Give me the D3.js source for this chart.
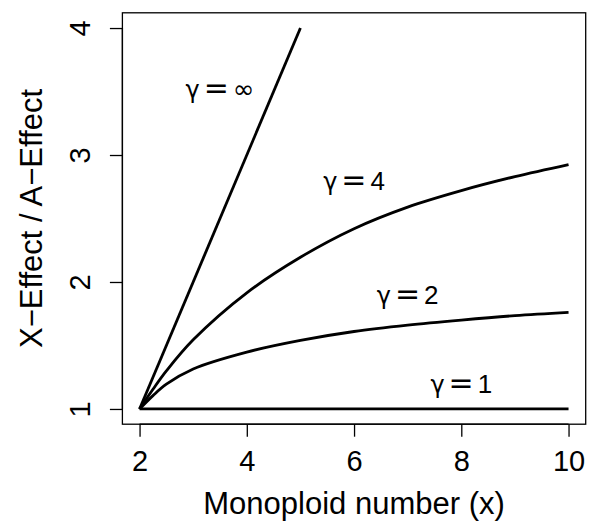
<!DOCTYPE html>
<html>
<head>
<meta charset="utf-8">
<script src="https://cdn.jsdelivr.net/npm/d3@7"></script>
<style>
  html, body { margin: 0; padding: 0; background: #fff; }
  svg { display: block; }
  text { font-family: "Liberation Sans", Arial, Helvetica, sans-serif; fill: #000; }
</style>
</head>
<body>
<svg id="chart" width="593" height="526"></svg>
<script>
// ---- data ----
const xTicks = [2, 4, 6, 8, 10];
const yTicks = [1, 2, 3, 4];
const xInf = [2, 5];
const yInf = [1, 4];
const x4 = [2, 2.25, 2.5, 3, 4, 5, 6, 7, 8, 9, 10];
const y4 = [1, 1.155, 1.30, 1.545, 1.915, 2.195, 2.42, 2.59, 2.72, 2.83, 2.925];
const x2 = [2, 2.25, 2.5, 3, 4, 5, 6, 7, 8, 9, 10];
const y2 = [1, 1.105, 1.195, 1.315, 1.448, 1.54, 1.61, 1.66, 1.70, 1.735, 1.761];
const x1 = [2, 10];
const y1 = [1, 1];
const labelText = ["∞", "4", "2", "1"];
const labelX = [3.5, 6, 7, 8];
const labelY = [3.52, 2.8, 1.9, 1.2];
const xTitle = "Monoploid number (x)";
const yTitle = "X\u2212Effect / A\u2212Effect";

// ---- layout ----
const svg = d3.select("#chart");
const plot = { left: 122.4, right: 585.7, top: 12.8, bottom: 424.2 };
const xDom = [2 - 0.32, 10 + 0.32];
const yDom = [1 - 0.12, 4 + 0.12];
const x = d3.scaleLinear().domain(xDom).range([plot.left, plot.right]);
const y = d3.scaleLinear().domain(yDom).range([plot.bottom, plot.top]);

// box
svg.append("rect")
  .attr("x", plot.left).attr("y", plot.top)
  .attr("width", plot.right - plot.left).attr("height", plot.bottom - plot.top)
  .attr("fill", "none").attr("stroke", "#000").attr("stroke-width", 1.3);

// x axis
const xAxis = d3.axisBottom(x).tickValues(xTicks).tickSize(12.5).tickFormat(d3.format("d"));
const gx = svg.append("g").attr("transform", `translate(0,${plot.bottom})`).call(xAxis);
gx.select(".domain").attr("d", `M${x(2)},0H${x(10)}`).attr("stroke-width", 1.3);
gx.selectAll(".tick line").attr("stroke-width", 1.3);
gx.selectAll(".tick text").attr("font-size", 29).attr("dy", null).attr("y", 46.5)
  .attr("font-family", '"Liberation Sans", Arial, sans-serif');

// y axis
const yAxis = d3.axisLeft(y).tickValues(yTicks).tickSize(12.5).tickFormat(d3.format("d"));
const gy = svg.append("g").attr("transform", `translate(${plot.left},0)`).call(yAxis);
gy.select(".domain").attr("d", `M0,${y(1)}V${y(4)}`).attr("stroke-width", 1.3);
gy.selectAll(".tick line").attr("stroke-width", 1.3);
gy.selectAll(".tick text")
  .attr("font-size", 29)
  .attr("x", null).attr("dy", null)
  .attr("text-anchor", "middle")
  .attr("transform", "translate(-32,0) rotate(-90)")
  .attr("font-family", '"Liberation Sans", Arial, sans-serif');

// titles
svg.append("text")
  .attr("x", (plot.left + plot.right) / 2).attr("y", 514)
  .attr("text-anchor", "middle").attr("font-size", 31)
  .text(xTitle);
svg.append("text")
  .attr("transform", `translate(42,${(plot.top + plot.bottom) / 2}) rotate(-90)`)
  .attr("text-anchor", "middle").attr("font-size", 31)
  .text(yTitle);

// curves
const line = d3.line().x(d => x(d[0])).y(d => y(d[1])).curve(d3.curveCatmullRom.alpha(0.5));
const series = [
  d3.zip(xInf, yInf),
  d3.zip(x4, y4),
  d3.zip(x2, y2),
  d3.zip(x1, y1)
];
svg.append("g").selectAll("path").data(series).join("path")
  .attr("d", line)
  .attr("fill", "none").attr("stroke", "#000").attr("stroke-width", 2.8)
  .attr("stroke-linejoin", "round");

// labels
const lab = svg.append("g").selectAll("text").data(labelText).join("text")
  .attr("x", (d, i) => x(labelX[i]))
  .attr("y", (d, i) => y(labelY[i]))
  .attr("dy", "0.36em")
  .attr("text-anchor", "middle")
  .attr("font-size", 26);
lab.append("tspan").attr("font-family", '"DejaVu Sans", sans-serif').attr("font-size", 24).text("γ");
lab.append("tspan").attr("dx", 4).attr("font-size", 30).attr("font-family", '"DejaVu Sans", sans-serif').text("=");
lab.append("tspan").attr("dx", 4).attr("font-family", (d) => d === "∞" ? '"DejaVu Sans", sans-serif' : '"Liberation Sans", Arial, sans-serif').text(d => d);
</script>
</body>
</html>
